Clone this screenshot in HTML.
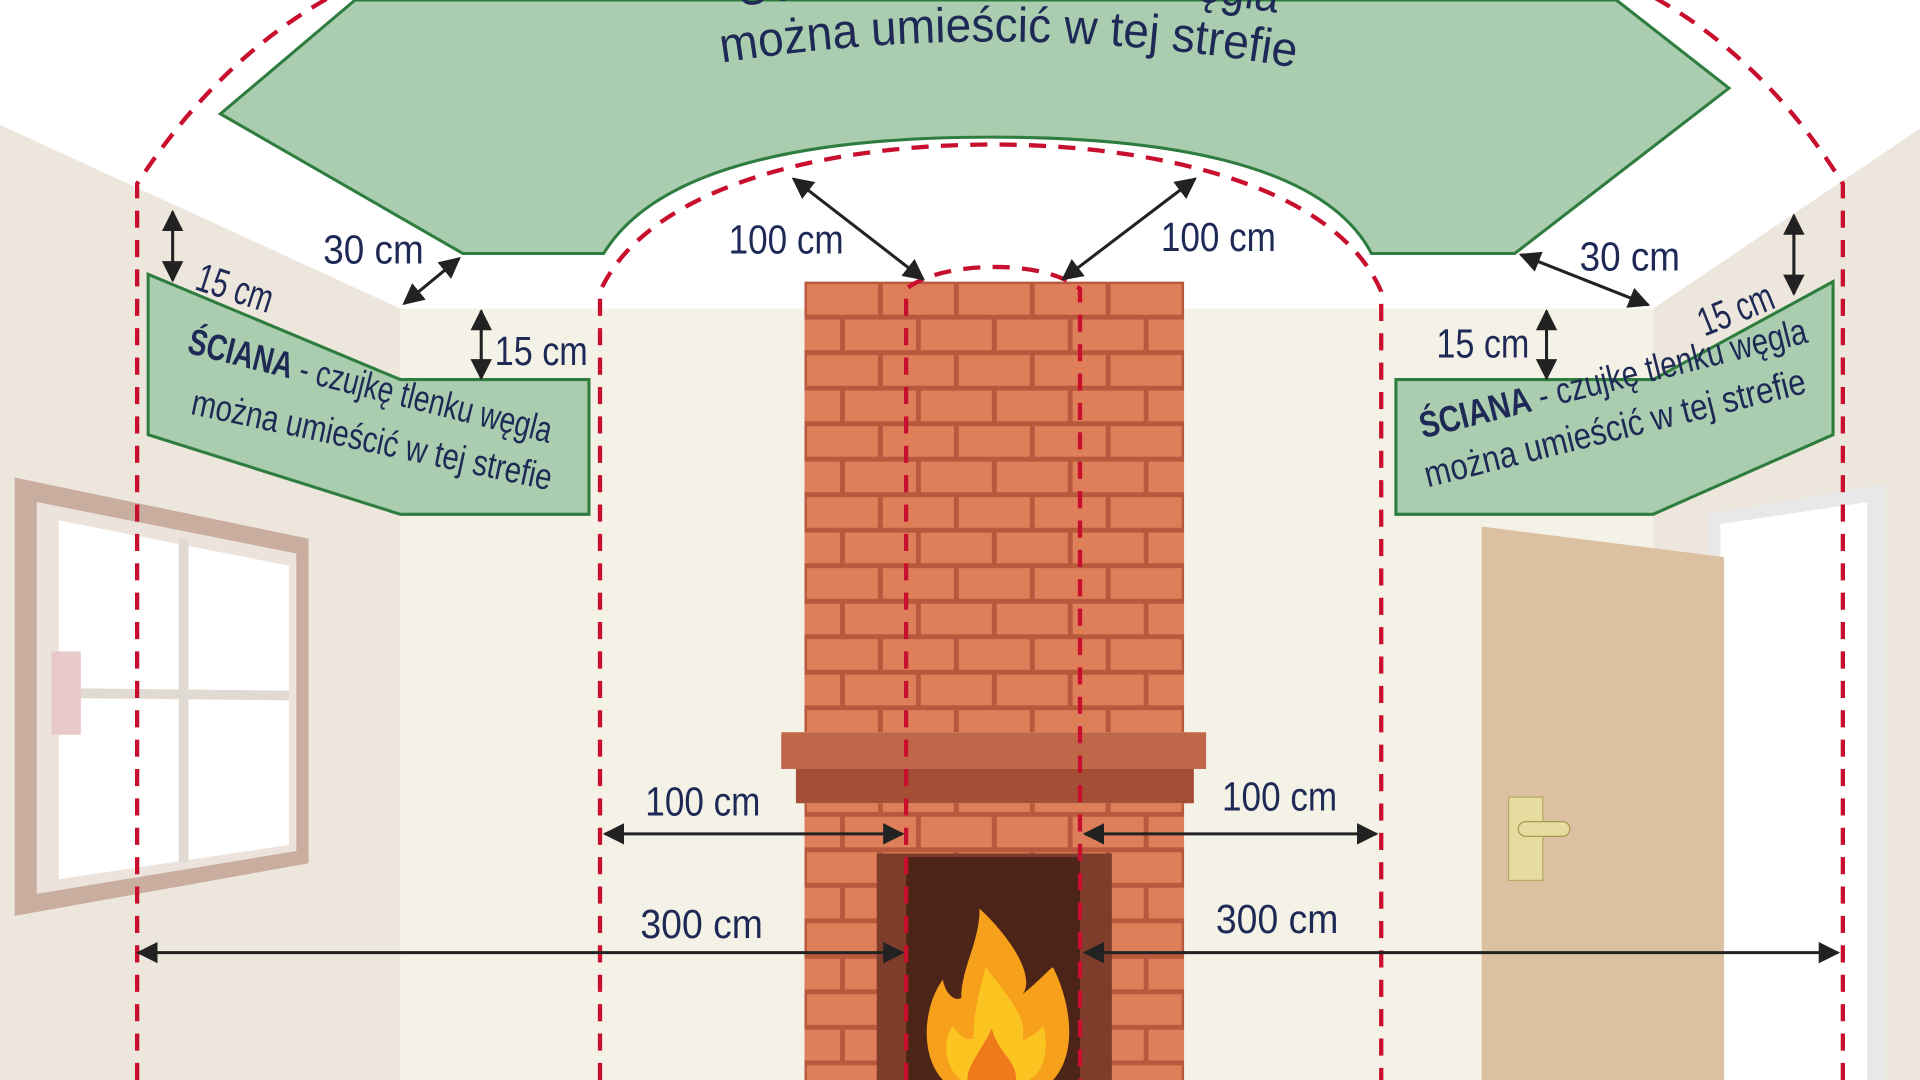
<!DOCTYPE html>
<html><head><meta charset="utf-8"><style>
html,body{margin:0;padding:0;width:1920px;height:1080px;overflow:hidden;background:#fff}
svg{display:block}
text{font-family:"Liberation Sans Narrow","Liberation Sans",sans-serif;fill:#1e2a55}
</style></head><body>
<svg width="1920" height="1080" viewBox="0 0 1568 882" preserveAspectRatio="none" xmlns="http://www.w3.org/2000/svg">
<defs>
<pattern id="brick" x="657" y="230" width="62" height="58" patternUnits="userSpaceOnUse">
<rect width="62" height="58" fill="#b8583c"/>
<rect x="2" y="2" width="58" height="25" fill="#de7f5a"/>
<rect x="-29" y="31" width="58" height="25" fill="#de7f5a"/>
<rect x="33" y="31" width="58" height="25" fill="#de7f5a"/>
</pattern>
<marker id="ah" viewBox="0 0 10 10" refX="9" refY="5" markerWidth="7" markerHeight="7" orient="auto-start-reverse"><path d="M0,0 L10,5 L0,10 z" fill="#222"/></marker>
<path id="tp1" d="M585,8 Q823,-30 1062,14" fill="none"/>
<path id="tp2" d="M585,52 Q823,14 1062,56" fill="none"/>
</defs>
<rect x="0" y="0" width="1568" height="882" fill="#fff"/>
<rect x="327" y="252" width="1023" height="630" fill="#f4f2e7"/>
<polygon points="0,102 327,252 327,882 0,882" fill="#ede6dc"/>
<polygon points="1350,252 1568,105 1568,882 1350,882" fill="#ede6dc"/>
<!-- ceiling green -->
<path d="M290,0 L180,93 L378,207 L493,207 C540,130 680,112 810,112 C940,112 1080,130 1120,207 L1237,207 L1412,72 L1320,0 Z" fill="#aacdb0" stroke="#2e7d3e" stroke-width="2.5"/>
<text font-size="40"><textPath href="#tp1" startOffset="50%" text-anchor="middle" textLength="440" lengthAdjust="spacingAndGlyphs">SUFIT - czujkę tlenku węgla</textPath></text>
<text font-size="40"><textPath href="#tp2" startOffset="50%" text-anchor="middle" textLength="470" lengthAdjust="spacingAndGlyphs">można umieścić w tej strefie</textPath></text>
<!-- window -->
<polygon points="12,390 252,440 252,705 12,748" fill="#c9ad9f"/>
<polygon points="30,410 242,452 242,695 30,730" fill="#ece4dc"/>
<polygon points="48,425 236,462 236,690 48,718" fill="#fff"/>
<line x1="150" y1="440" x2="150" y2="704" stroke="#e1dad2" stroke-width="8"/>
<line x1="48" y1="566" x2="236" y2="568" stroke="#e1dad2" stroke-width="8"/>
<rect x="42" y="532" width="24" height="68" fill="#e8c8c8"/>
<!-- door -->
<polygon points="1395,420 1540,395 1540,882 1395,882" fill="#e8e8e8"/>
<polygon points="1405,428 1525,410 1525,882 1405,882" fill="#fff"/>
<polygon points="1210,430 1408,455 1408,882 1210,882" fill="#dcc0a2"/>
<rect x="1232" y="651" width="28" height="68" fill="#e6dca0" stroke="#b8a860"/>
<rect x="1240" y="671" width="42" height="12" rx="6" fill="#e6dca0" stroke="#a89850"/>
<!-- chimney -->
<rect x="657" y="230" width="310" height="368" fill="url(#brick)"/>
<rect x="657" y="656" width="310" height="226" fill="url(#brick)"/>
<rect x="638" y="598" width="347" height="30" fill="#c0674a"/>
<rect x="650" y="628" width="325" height="28" fill="#a54e36"/>
<rect x="716" y="697" width="192" height="185" fill="#7e3c2a"/>
<rect x="740" y="700" width="142" height="182" fill="#4c2418"/>
<path d="M800,742 C830,770 845,800 835,812 C850,800 858,790 860,790 C875,820 880,860 860,882 L770,882 C750,860 755,820 770,800 C772,812 780,818 785,815 C785,790 800,770 800,742 Z" fill="#f6a01c"/>
<path d="M805,790 C820,810 840,830 835,850 C845,845 850,840 852,838 C858,860 850,878 840,882 L785,882 C770,870 770,850 778,838 C785,848 790,850 795,848 C795,825 800,810 805,790 Z" fill="#fcc420"/>
<path d="M810,840 C815,860 830,865 830,882 L790,882 C790,870 800,860 810,840 Z" fill="#ef7a1a"/>
<!-- left wall banner -->
<polygon points="121,224 327,310 481,310 481,420 327,420 121,355" fill="#aacdb0" stroke="#2e7d3e" stroke-width="2.5"/>
<g transform="translate(152,288) rotate(14)"><text font-size="30" textLength="305" lengthAdjust="spacingAndGlyphs"><tspan font-weight="bold">ŚCIANA</tspan> - czujkę tlenku węgla</text></g>
<g transform="translate(155,338) rotate(12)"><text font-size="30" textLength="300" lengthAdjust="spacingAndGlyphs">można umieścić w tej strefie</text></g>
<!-- right wall banner -->
<polygon points="1140,310 1350,310 1497,230 1497,355 1350,420 1140,420" fill="#aacdb0" stroke="#2e7d3e" stroke-width="2.5"/>
<g transform="translate(1162,358) rotate(-14)"><text font-size="30" textLength="325" lengthAdjust="spacingAndGlyphs"><tspan font-weight="bold">ŚCIANA</tspan> - czujkę tlenku węgla</text></g>
<g transform="translate(1166,398) rotate(-14)"><text font-size="30" textLength="320" lengthAdjust="spacingAndGlyphs">można umieścić w tej strefie</text></g>
<!-- red dashed -->
<g fill="none" stroke="#c8102e" stroke-width="3.5" stroke-dasharray="14,10">
<path d="M112,882 L112,150 Q190,30 305,-20"/>
<path d="M1505,882 L1505,150 Q1430,30 1315,-20"/>
<path d="M490,882 L490,238 C530,150 680,118 810,118 C940,118 1090,150 1128,238 L1128,882"/>
<path d="M740,882 L740,236 C770,212 855,212 882,236 L882,882"/>
</g>
<!-- arrows -->
<g stroke="#222" stroke-width="2.5" marker-start="url(#ah)" marker-end="url(#ah)">
<line x1="141" y1="173" x2="141" y2="229"/>
<line x1="375" y1="211" x2="330" y2="248"/>
<line x1="393" y1="254" x2="393" y2="309"/>
<line x1="648" y1="146" x2="754" y2="228"/>
<line x1="976" y1="146" x2="868" y2="228"/>
<line x1="1242" y1="208" x2="1346" y2="249"/>
<line x1="1263" y1="254" x2="1263" y2="309"/>
<line x1="1465" y1="176" x2="1465" y2="240"/>
<line x1="494" y1="681" x2="737" y2="681"/>
<line x1="886" y1="681" x2="1124" y2="681"/>
<line x1="113" y1="778" x2="737" y2="778"/>
<line x1="886" y1="778" x2="1501" y2="778"/>
</g>
<g font-size="33">
<text x="158" y="236" transform="rotate(18 158 236)" textLength="64" lengthAdjust="spacingAndGlyphs">15 cm</text>
<text x="264" y="215" textLength="82" lengthAdjust="spacingAndGlyphs">30 cm</text>
<text x="404" y="298" textLength="76" lengthAdjust="spacingAndGlyphs">15 cm</text>
<text x="595" y="207" textLength="94" lengthAdjust="spacingAndGlyphs">100 cm</text>
<text x="948" y="205" textLength="94" lengthAdjust="spacingAndGlyphs">100 cm</text>
<text x="1290" y="221" textLength="82" lengthAdjust="spacingAndGlyphs">30 cm</text>
<text x="1173" y="292" textLength="76" lengthAdjust="spacingAndGlyphs">15 cm</text>
<text x="1392" y="275" transform="rotate(-22 1392 275)" textLength="64" lengthAdjust="spacingAndGlyphs">15 cm</text>
<text x="527" y="666" textLength="94" lengthAdjust="spacingAndGlyphs">100 cm</text>
<text x="998" y="662" textLength="94" lengthAdjust="spacingAndGlyphs">100 cm</text>
<text x="523" y="766" textLength="100" lengthAdjust="spacingAndGlyphs">300 cm</text>
<text x="993" y="762" textLength="100" lengthAdjust="spacingAndGlyphs">300 cm</text>
</g>
</svg>
</body></html>
